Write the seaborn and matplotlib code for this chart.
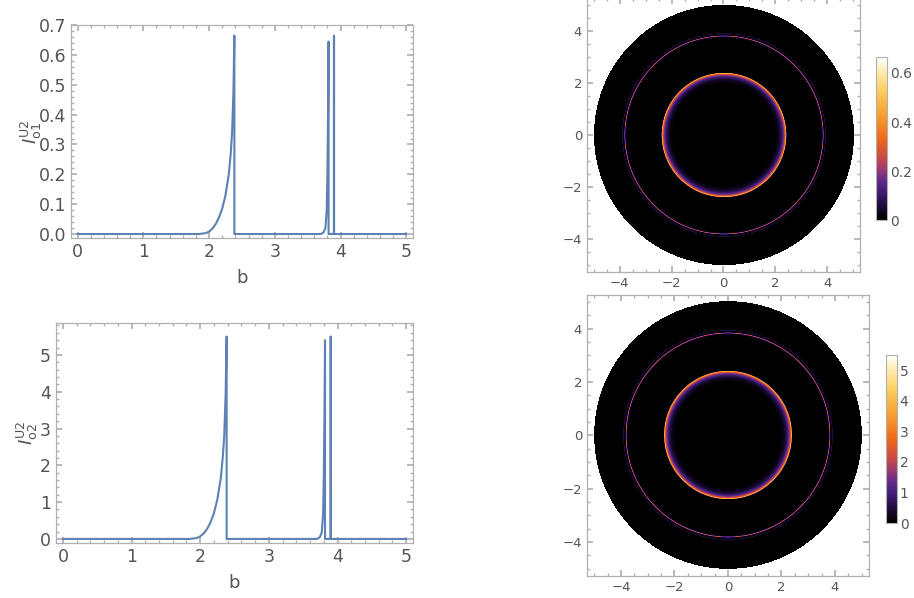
import numpy as np
import pandas as pd
import matplotlib

matplotlib.use("Agg")
import matplotlib.pyplot as plt
import seaborn as sns
from matplotlib.colors import LinearSegmentedColormap
from matplotlib.ticker import MultipleLocator

# radial intensity profiles (b, I)
b_vals = [0.0, 1.85, 1.95, 2.0, 2.05, 2.1, 2.15, 2.2, 2.25, 2.3, 2.33, 2.35, 2.37, 2.385,
          2.385, 3.70, 3.74, 3.77, 3.79, 3.80, 3.81, 3.818, 3.818, 3.899, 3.899, 3.902, 3.902, 5.0]
i_o1 = [0.0, 0.0, 0.003, 0.008, 0.018, 0.033, 0.055, 0.085, 0.13, 0.2, 0.27, 0.34, 0.47, 0.665,
        0.0, 0.0, 0.005, 0.02, 0.08, 0.2, 0.4, 0.645, 0.0, 0.0, 0.665, 0.665, 0.0, 0.0]
i_o2 = [0.0, 0.0, 0.025, 0.07, 0.15, 0.27, 0.45, 0.7, 1.08, 1.65, 2.25, 2.8, 3.9, 5.5,
        0.0, 0.0, 0.04, 0.17, 0.67, 1.67, 3.35, 5.4, 0.0, 0.0, 5.5, 5.5, 0.0, 0.0]

disk_radius = 5.0
ylabels = [r"$I^{\mathrm{U2}}_{\mathrm{o1}}$", r"$I^{\mathrm{U2}}_{\mathrm{o2}}$"]

LINE = "#5e81b5"
FRAME = "#b0b0b0"
TXT = "#555555"
W, H = 914, 598

sunset = LinearSegmentedColormap.from_list(
    "sunset",
    [(0.0, "#000000"), (0.08, "#1a0a35"), (0.16, "#3d1a70"), (0.24, "#5e2a8c"),
     (0.31, "#9a3a72"), (0.38, "#c84848"), (0.5, "#ee6a18"), (0.65, "#f8a030"),
     (0.8, "#fcd060"), (0.9, "#fde8a8"), (1.0, "#ffffff")],
)
sunset.set_bad("white")

sns.set_theme(style="ticks")
plt.rcParams["font.family"] = ["DejaVu Sans"]
plt.rcParams["mathtext.fontset"] = "dejavusans"

fig = plt.figure(figsize=(W / 100, H / 100), dpi=100)


def frame_style(ax, size):
    for s in ax.spines.values():
        s.set_color(FRAME)
        s.set_linewidth(0.9)
    ax.tick_params(which="both", direction="in", top=True, right=True, color=FRAME,
                   labelcolor=TXT, labelsize=size)
    ax.tick_params(which="major", length=4)
    ax.tick_params(which="minor", length=2)


def line_panel(rect, vals, ylim, major, minor, ylabel, fmt, pad):
    ax = fig.add_axes(rect)
    df = pd.DataFrame({"b": b_vals, "I": vals})
    sns.lineplot(data=df, x="b", y="I", sort=False, estimator=None, color=LINE, lw=1.5, ax=ax)
    ax.set_xlim(-0.1, 5.1)
    ax.set_ylim(*ylim)
    ax.xaxis.set_major_locator(MultipleLocator(1))
    ax.xaxis.set_minor_locator(MultipleLocator(0.2))
    ax.yaxis.set_major_locator(MultipleLocator(major))
    ax.yaxis.set_minor_locator(MultipleLocator(minor))
    ax.yaxis.set_major_formatter(fmt)
    frame_style(ax, 12.5)
    ax.set_xlabel("b", color=TXT, fontsize=13, labelpad=6)
    ax.set_ylabel(ylabel, color=TXT, fontsize=13, labelpad=pad)
    return ax


line_panel([0.0777, 0.602, 0.374, 0.356], i_o1, (-0.0134, 0.7), 0.1, 0.02, ylabels[0],
           lambda v, p: f"{v:.1f}", -4)
line_panel([0.0613, 0.092, 0.3906, 0.368], i_o2, (-0.11, 5.87), 1, 0.2, ylabels[1],
           lambda v, p: f"{v:.0f}", 0)


def image_panel(rect, crect, vals, cticks):
    ax = fig.add_axes(rect)
    lim = 5.27
    # one cell per screen pixel, each cell the radial profile averaged over a short window
    nx, ny = round(rect[2] * W), round(rect[3] * H)
    r_fine = np.linspace(0, 8, 80001)
    prof = np.interp(r_fine, np.array(b_vals), np.array(vals))
    cum = np.concatenate([[0], np.cumsum((prof[1:] + prof[:-1]) / 2 * np.diff(r_fine))])
    h = 0.016
    gx = (np.arange(nx) + 0.5) / nx * 2 * lim - lim
    gy = (np.arange(ny) + 0.5) / ny * 2 * lim - lim
    X, Y = np.meshgrid(gx, gy)
    R = np.hypot(X, Y)
    img = (np.interp(R + h, r_fine, cum) - np.interp(R - h, r_fine, cum)) / (2 * h)
    img = np.where(R > disk_radius, np.nan, img)
    vmax = max(vals)
    im = ax.imshow(img, extent=(-lim, lim, -lim, lim), origin="lower", cmap=sunset,
                   vmin=0, vmax=vmax, interpolation="nearest")
    ax.set_xlim(-lim, lim)
    ax.set_ylim(-lim, lim)
    ax.set_aspect("auto")
    for axis in (ax.xaxis, ax.yaxis):
        axis.set_major_locator(MultipleLocator(2))
        axis.set_minor_locator(MultipleLocator(0.5))
    ax.xaxis.set_major_formatter(lambda v, p: f"{v:.0f}".replace("-", "\u2212"))
    ax.yaxis.set_major_formatter(lambda v, p: f"{v:.0f}".replace("-", "\u2212"))
    frame_style(ax, 9.5)
    ax.grid(False)
    cax = fig.add_axes(crect)
    cb = fig.colorbar(im, cax=cax, ticks=cticks)
    cb.outline.set_edgecolor(FRAME)
    cb.outline.set_linewidth(0.8)
    cax.tick_params(labelcolor=TXT, labelsize=10, color=FRAME, length=2, direction="in", pad=2)
    cax.yaxis.set_major_formatter(lambda v, p: f"{v:g}")


image_panel([0.6422, 0.545, 0.2987, 0.458], [0.9584, 0.632, 0.012, 0.2726], i_o1,
            [0, 0.2, 0.4, 0.6])
image_panel([0.6422, 0.0368, 0.3085, 0.47], [0.9694, 0.1254, 0.012, 0.281], i_o2,
            [0, 1, 2, 3, 4, 5])

fig.savefig("out.png", dpi=100)
